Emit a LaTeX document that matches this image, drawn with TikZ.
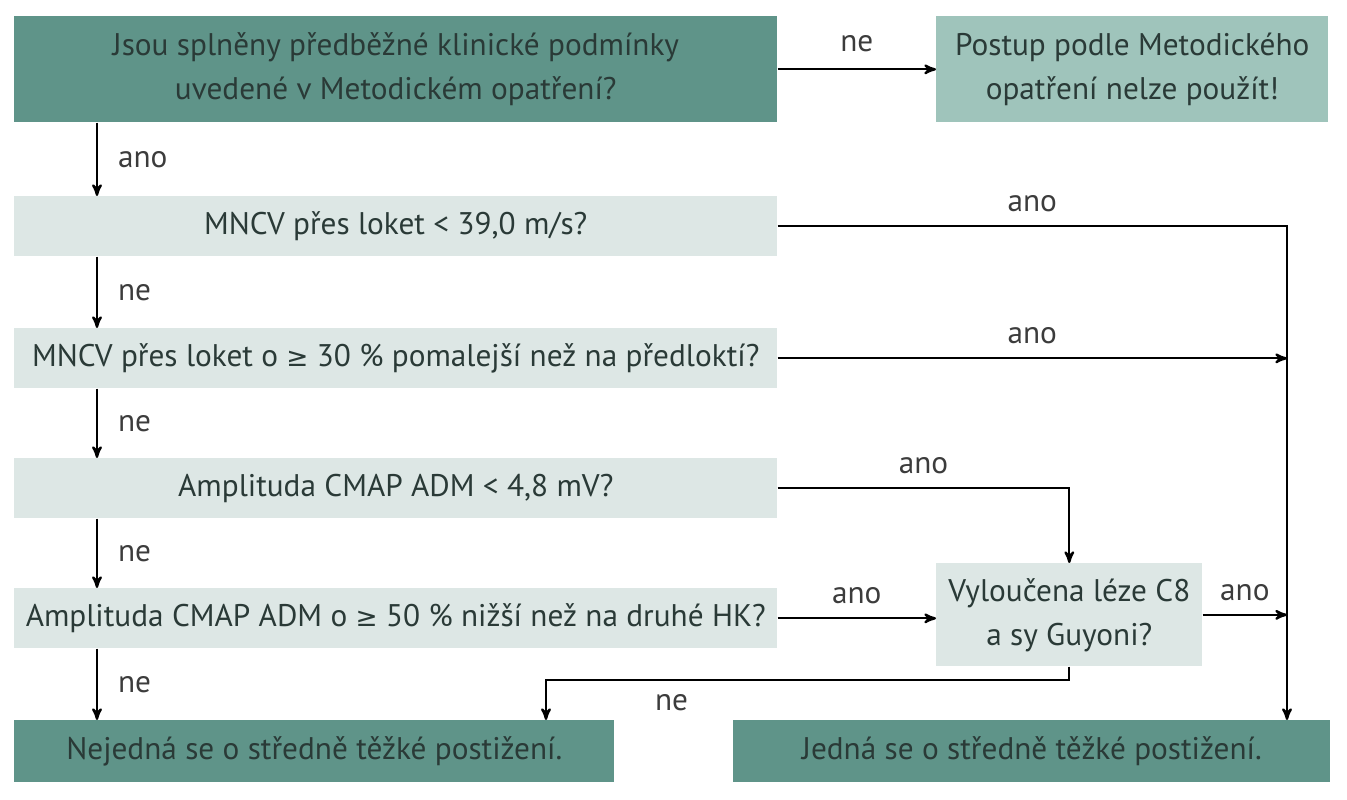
\documentclass[tikz,border=0pt]{standalone}
\usepackage{fontspec}
\setmainfont{PT Sans}
\newfontfamily\symfont{DejaVu Sans}
\usepackage{xcolor}
\usetikzlibrary{arrows,positioning}
\definecolor{tealdark}{RGB}{95,148,137}
\definecolor{tealmid}{RGB}{159,196,187}
\definecolor{teallight}{RGB}{221,231,229}
\definecolor{txt}{RGB}{42,58,55}
\definecolor{lblgray}{RGB}{60,60,60}
\newcommand{\gesign}{{\symfont\fontsize{15}{20}\selectfont ≥}}

\begin{document}
\begin{tikzpicture}[x=0.02cm, y=-0.02cm, >=stealth',
every node/.style = {align=center, text=txt,
    font=\fontsize{17.8}{25}\selectfont},
box/.style = {rectangle, anchor=north west, inner sep=0pt},
dark/.style = {box, fill=tealdark},
mid/.style = {box, fill=tealmid},
light/.style = {box, fill=teallight, minimum width=15.26cm, minimum height=1.2cm},
lbl/.style = {text=lblgray},
conn/.style = {draw=black, line width=1.3pt}]
\useasboundingbox (0,0) rectangle (1347,800);
% questions
\node[dark, minimum width=15.26cm, minimum height=2.12cm] (q0) at (14,16)
  {Jsou splněny předběžné klinické podmínky\\uvedené v Metodickém opatření?};
\node[mid, minimum width=7.84cm, minimum height=2.12cm] (r1) at (936,16)
  {Postup podle Metodického\\opatření nelze použít!};
\node[light] (q1) at (14,196) {MNCV přes loket < 39,0 m/s?};
\node[light] (q2) at (14,328) {MNCV přes loket o \gesign{} 30 \% pomalejší než na předloktí?};
\node[light] (q3) at (14,458) {Amplituda CMAP ADM < 4,8 mV?};
\node[light] (q4) at (14,588) {Amplituda CMAP ADM o \gesign{} 50 \% nižší než na druhé HK?};
\node[box, fill=teallight, minimum width=5.32cm, minimum height=2.06cm] (q5) at (936,563)
  {Vyloučena léze C8\\a sy Guyoni?};
% results
\node[dark, minimum width=12cm, minimum height=1.24cm] (r2) at (14,720)
  {Nejedná se o středně těžké postižení.};
\node[dark, minimum width=11.94cm, minimum height=1.24cm] (r3) at (733,720)
  {Jedná se o středně těžké postižení.};
\coordinate (rail) at (1287,0);
\coordinate (bend) at (546,680);

% main column
\draw[conn,->] (q0.east) -- (q0.east -| r1.west) node[lbl, midway, above=6pt] {ne};
\draw[conn,->] ([xshift=1.66cm]q0.south west) -- ([xshift=1.66cm]q1.north west)
  node[lbl, midway, right=8pt] {ano};
\draw[conn,->] ([xshift=1.66cm]q1.south west) -- ([xshift=1.66cm]q2.north west)
  node[lbl, midway, right=8pt] {ne};
\draw[conn,->] ([xshift=1.66cm]q2.south west) -- ([xshift=1.66cm]q3.north west)
  node[lbl, midway, right=8pt] {ne};
\draw[conn,->] ([xshift=1.66cm]q3.south west) -- ([xshift=1.66cm]q4.north west)
  node[lbl, midway, right=8pt] {ne};
\draw[conn,->] ([xshift=1.66cm]q4.south west) -- ([xshift=1.66cm]r2.north west)
  node[lbl, midway, right=8pt] {ne};

% right side
\draw[conn,->] (q1.east) -| (rail |- r3.north) node[lbl, pos=0.25, above=4pt] {ano};
\draw[conn,->] (q2.east) -- (rail |- q2.east) node[lbl, midway, above=4pt] {ano};
\draw[conn,->] (q3.east) -| (q5.north) node[lbl, pos=0.25, above=4pt] {ano};
\draw[conn,->] (q4.east) -- (q4.east -| q5.west) node[lbl, midway, above=4pt] {ano};
\draw[conn,->] (q5.east) -- (rail |- q5.east) node[lbl, midway, above=4pt] {ano};
\draw[conn,->] (q5.south) |- (bend) node[lbl, pos=0.88, below=4pt] {ne}
  -- (bend |- r2.north);
\end{tikzpicture}
\end{document}
